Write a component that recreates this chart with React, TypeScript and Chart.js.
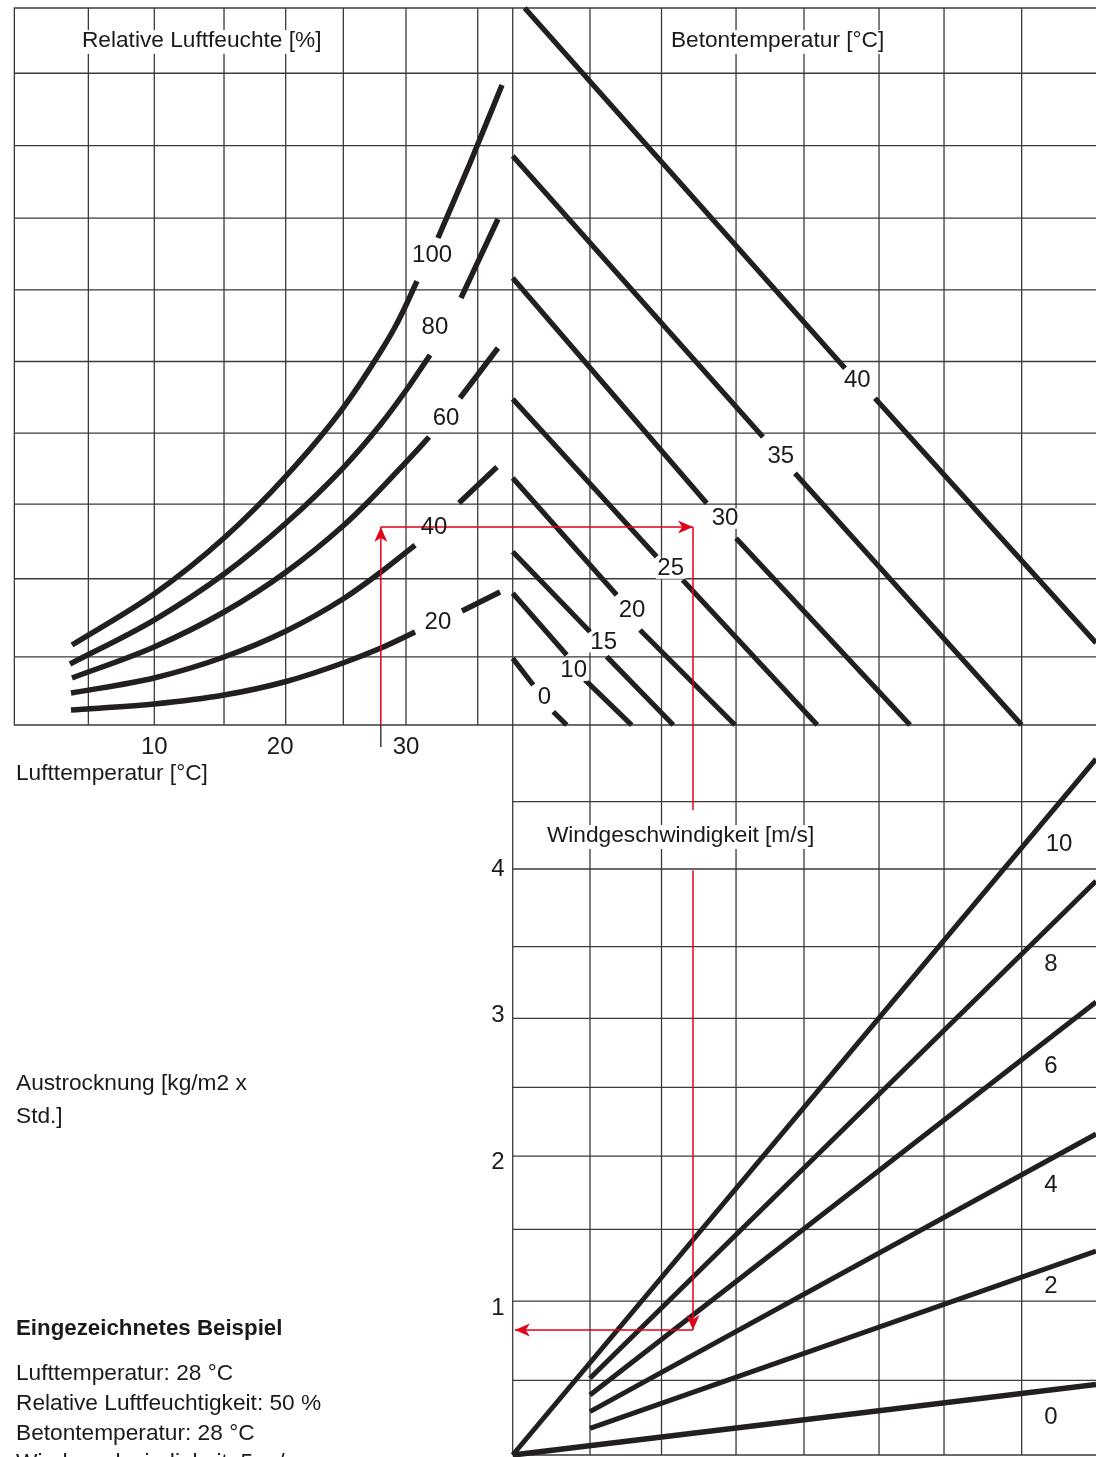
import React, { useEffect, useRef } from "react";
import { Chart, registerables } from "chart.js";

Chart.register(...registerables);

// ---------------- Data ----------------
// Scales: xL = air temperature [°C]; yT = vapour-pressure grid rows (top panels);
// xR = columns of the right-hand panels; yB = evaporation [kg/m² x h] (bottom panel)

// tick labels
const airTempTicks = [10, 20, 30];
const evaporationTicks = [1, 2, 3, 4];

// grid lines
const airTempGrid = [-1.12, 4.76, 10, 15.54, 20.44, 25.02, 30, 35.7];
const rightGrid = [0, 1.063, 2.047, 3.072, 4.007, 5.039, 5.933, 7.001];
const topGrid = [0, 0.95, 2.04, 3.08, 4.07, 5.07, 6.07, 7.07, 8.08, 9.09, 10];
const bottomGrid = [0, 0.51, 1.05, 1.54, 2.04, 2.51, 2.98, 3.47, 4.0, 4.46];

// relative humidity curves [air temp, row value]; each curve is broken where its label sits
const rhLabels = ["100", "80", "60", "40", "20"];
const rh100 = [
  [[3.46, 1.116], [9.98, 1.827], [15.54, 2.608], [20.47, 3.473], [24.99, 4.421], [28.01, 5.216], [29.13, 5.551], [30.08, 5.886], [30.87, 6.192]],
  [[32.54, 6.792], [35.09, 7.838], [37.63, 8.926]],
];
const rh80 = [
  [[3.3, 0.851], [9.98, 1.464], [15.54, 2.106], [20.47, 2.817], [24.99, 3.584], [28.01, 4.198], [30.08, 4.686], [31.11, 4.951], [31.91, 5.16]],
  [[34.37, 5.955], [37.31, 7.057]],
];
const rh60 = [
  [[3.46, 0.656], [9.98, 1.088], [15.54, 1.576], [20.47, 2.134], [24.99, 2.775], [27.14, 3.138], [30.08, 3.682], [31.11, 3.877], [31.83, 4.017]],
  [[34.29, 4.561], [37.31, 5.258]],
];
const rh40 = [
  [[3.38, 0.446], [9.98, 0.656], [15.54, 0.948], [20.47, 1.311], [24.99, 1.757], [28.01, 2.134], [30.72, 2.51]],
  [[34.21, 3.096], [37.23, 3.598]],
];
const rh20 = [
  [[3.38, 0.209], [9.98, 0.293], [15.54, 0.418], [20.47, 0.607], [24.99, 0.865], [28.01, 1.074], [30.72, 1.297]],
  [[34.45, 1.59], [37.47, 1.855]],
];
const rhLabelAt = [[32.07, 6.555], [32.3, 5.551], [33.18, 4.282], [32.23, 2.762], [32.54, 1.437]];

// concrete temperature lines [column, row value]
const betonLabels = ["40", "35", "30", "25", "20", "15", "10", "0"];
const beton40 = [[[0.165, 10.0], [4.571, 4.975]], [[4.983, 4.557], [8.024, 1.144]]];
const beton35 = [[[0, 7.936], [3.443, 4.017]], [[3.883, 3.51], [7.001, 0]]];
const beton30 = [[[0, 6.234], [2.669, 3.092]], [[3.072, 2.604], [5.465, 0]]];
const beton25 = [[[0, 4.547], [1.981, 2.347]], [[2.338, 2.022], [4.19, 0]]];
const beton20 = [[[0, 3.445], [1.431, 1.813]], [[1.751, 1.325], [3.058, 0]]];
const beton15 = [[[0, 2.417], [1.063, 1.301]], [[1.293, 0.953], [2.209, 0]]];
const beton10 = [[[0, 1.837], [0.743, 0.976]], [[0.994, 0.628], [1.637, 0]]];
const beton0 = [[[0, 0.93], [0.283, 0.558]], [[0.558, 0.185], [0.743, 0]]];
const betonLabelAt = [[4.739, 4.801], [3.688, 3.742], [2.92, 2.877], [2.173, 2.18], [1.641, 1.593], [1.252, 1.153], [0.839, 0.756], [0.437, 0.384]];

// wind speed lines [column, evaporation]
const windLabels = ["10", "8", "6", "4", "2", "0"];
const wind10 = [[0, 0], [8.024, 4.751]];
const wind8 = [[1.063, 0.524], [8.024, 3.918]];
const wind6 = [[1.063, 0.41], [8.024, 3.092]];
const wind4 = [[1.063, 0.296], [8.024, 2.191]];
const wind2 = [[1.063, 0.182], [8.024, 1.392]];
const wind0 = [[0, 0], [8.024, 0.481]];
const windLabelAt = [[7.515, 4.171], [7.405, 3.352], [7.405, 2.655], [7.405, 1.843], [7.405, 1.154], [7.405, 0.259]];

// worked example (red arrows)
const exampleAirTemp = 28;
const exampleRow = 2.762;
const exampleColumn = 2.48;
const exampleGapTop = -1.19; // row value where the red line breaks
const exampleGapBottom = 3.99; // evaporation value where it resumes
const exampleEvaporation = 0.853;
const exampleArrowEnd = 0.03;
const exampleTickEnd = -0.307;
const exampleLines = [
  "Lufttemperatur: 28 °C",
  "Relative Luftfeuchtigkeit: 50 %",
  "Betontemperatur: 28 °C",
  "Windgeschwindigkeit: 5 m/s",
];

// ---------------- Styling ----------------
const INK = "#231f20";
const GRID = "#3a3a3a";
const RED = "#e3001b";
const TEXT = "#1a1a1a";
const FONT = '"Liberation Sans", Arial, Helvetica, sans-serif';
const NUM = 24;
const TXT = 22.7;

function lineDs(points: number[][], xAxisID: string, yAxisID: string, width: number, smooth: boolean) {
  return {
    data: points.map(([x, y]) => ({ x, y })),
    xAxisID,
    yAxisID,
    showLine: true,
    borderColor: INK,
    backgroundColor: INK,
    borderWidth: width,
    pointRadius: 0,
    pointHoverRadius: 0,
    fill: false,
    tension: 0,
    cubicInterpolationMode: smooth ? "monotone" : "default",
    borderCapStyle: "butt",
    borderJoinStyle: "round",
  };
}

const gridPlugin = {
  id: "nomoGrid",
  beforeDatasetsDraw(chart: any) {
    const { ctx, chartArea } = chart;
    const { xL, xR, yT, yB } = chart.scales;
    ctx.save();
    ctx.strokeStyle = GRID;
    ctx.lineWidth = 1.3;
    ctx.beginPath();
    airTempGrid.forEach((v) => {
      const x = xL.getPixelForValue(v);
      ctx.moveTo(x, yT.getPixelForValue(0));
      ctx.lineTo(x, yT.getPixelForValue(10));
    });
    rightGrid.forEach((v) => {
      const x = xR.getPixelForValue(v);
      ctx.moveTo(x, yT.getPixelForValue(10));
      ctx.lineTo(x, yB.getPixelForValue(0));
    });
    const leftEdge = xL.getPixelForValue(airTempGrid[0]);
    topGrid.forEach((v) => {
      const y = yT.getPixelForValue(v);
      ctx.moveTo(leftEdge - 0.6, y);
      ctx.lineTo(chartArea.right, y);
    });
    const midEdge = xR.getPixelForValue(0);
    bottomGrid.forEach((v) => {
      const y = yB.getPixelForValue(v);
      ctx.moveTo(midEdge, y);
      ctx.lineTo(chartArea.right, y);
    });
    ctx.stroke();
    ctx.restore();
  },
};

function knock(ctx: any, t: string, x: number, y: number, size: number, up: number, down: number) {
  ctx.font = `${size}px ${FONT}`;
  const w = ctx.measureText(t).width;
  ctx.fillStyle = "#ffffff";
  ctx.fillRect(x - w / 2 - 1.5, y - up * size, w + 3, (up + down) * size);
}

function write(ctx: any, t: string, x: number, y: number, size: number, align: string = "center") {
  ctx.font = `${size}px ${FONT}`;
  ctx.textAlign = align;
  ctx.textBaseline = "middle";
  ctx.fillStyle = TEXT;
  ctx.fillText(t, x, y);
}

function arrowHead(ctx: any, from: number[], tip: number[]) {
  const dx = tip[0] - from[0];
  const dy = tip[1] - from[1];
  const len = Math.hypot(dx, dy) || 1;
  const ux = dx / len;
  const uy = dy / len;
  const px = -uy;
  const py = ux;
  const L = 15;
  const H = 6.5;
  ctx.beginPath();
  ctx.moveTo(tip[0], tip[1]);
  ctx.lineTo(tip[0] - ux * L + px * H, tip[1] - uy * L + py * H);
  ctx.lineTo(tip[0] - ux * L * 0.72, tip[1] - uy * L * 0.72);
  ctx.lineTo(tip[0] - ux * L - px * H, tip[1] - uy * L - py * H);
  ctx.closePath();
  ctx.fill();
}

const labelPlugin = {
  id: "nomoLabels",
  afterDatasetsDraw(chart: any) {
    const { ctx } = chart;
    const s = chart.scales;
    const P = (xs: string, x: number, ys: string, y: number) => [s[xs].getPixelForValue(x), s[ys].getPixelForValue(y)];
    ctx.save();

    const headers: [string, number[]][] = [
      ["Relative Luftfeuchte [%]", P("xL", 13.77, "yT", 9.55)],
      ["Betontemperatur [°C]", P("xR", 3.644, "yT", 9.55)],
      ["Windgeschwindigkeit [m/s]", P("xR", 2.309, "yB", 4.23)],
    ];
    const rhPts = rhLabels.map((t, i) => [t, P("xL", rhLabelAt[i][0], "yT", rhLabelAt[i][1])] as [string, number[]]);
    const betonPts = betonLabels.map((t, i) => [t, P("xR", betonLabelAt[i][0], "yT", betonLabelAt[i][1])] as [string, number[]]);

    // white knock-outs behind labels
    headers.forEach(([t, p]) => knock(ctx, t, p[0], p[1], TXT, 0.45, 0.6));
    rhPts.forEach(([t, p]) => knock(ctx, t, p[0], p[1], NUM, 0.42, 0.42));
    betonPts.forEach(([t, p]) => knock(ctx, t, p[0], p[1], NUM, 0.42, 0.42));

    // worked example
    const a = P("xL", exampleAirTemp, "yT", 0);
    const b = P("xL", exampleAirTemp, "yT", exampleRow);
    const c = P("xR", exampleColumn, "yT", exampleRow);
    const d1 = P("xR", exampleColumn, "yT", exampleGapTop);
    const d2 = P("xR", exampleColumn, "yB", exampleGapBottom);
    const e = P("xR", exampleColumn, "yB", exampleEvaporation);
    const f = P("xR", exampleArrowEnd, "yB", exampleEvaporation);
    const tickEnd = P("xL", exampleAirTemp, "yT", exampleTickEnd);

    ctx.strokeStyle = INK;
    ctx.lineWidth = 1.3;
    ctx.beginPath();
    ctx.moveTo(a[0], a[1]);
    ctx.lineTo(tickEnd[0], tickEnd[1]);
    ctx.stroke();

    ctx.strokeStyle = RED;
    ctx.fillStyle = RED;
    ctx.lineWidth = 1.5;
    ctx.beginPath();
    ctx.moveTo(a[0], a[1]);
    ctx.lineTo(b[0], b[1]);
    ctx.moveTo(b[0], b[1]);
    ctx.lineTo(c[0], c[1]);
    ctx.moveTo(c[0], c[1]);
    ctx.lineTo(d1[0], d1[1]);
    ctx.moveTo(d2[0], d2[1]);
    ctx.lineTo(e[0], e[1]);
    ctx.moveTo(e[0], e[1]);
    ctx.lineTo(f[0], f[1]);
    ctx.stroke();
    arrowHead(ctx, a, b);
    arrowHead(ctx, b, c);
    arrowHead(ctx, d2, e);
    arrowHead(ctx, e, f);

    // texts
    headers.forEach(([t, p]) => write(ctx, t, p[0], p[1], TXT));
    rhPts.forEach(([t, p]) => write(ctx, t, p[0], p[1], NUM));
    betonPts.forEach(([t, p]) => write(ctx, t, p[0], p[1], NUM));
    windLabels.forEach((t, i) => {
      const p = P("xR", windLabelAt[i][0], "yB", windLabelAt[i][1]);
      write(ctx, t, p[0], p[1], NUM);
    });
    airTempTicks.forEach((v) => {
      const p = P("xL", v, "yT", -0.307);
      write(ctx, String(v), p[0], p[1], NUM);
    });
    evaporationTicks.forEach((v) => {
      const p = P("xR", -0.202, "yB", v);
      write(ctx, String(v), p[0], p[1], NUM);
    });
    const lt = P("xL", -0.99, "yT", -0.678);
    write(ctx, "Lufttemperatur [°C]", lt[0], lt[1], TXT, "left");

    ctx.restore();
  },
};

export default function App() {
  const ref = useRef<HTMLCanvasElement | null>(null);

  useEffect(() => {
    document.body.style.margin = "0";
    const canvas = ref.current;
    if (!canvas) return;

    const datasets: any[] = [];
    [rh100, rh80, rh60, rh40, rh20].forEach((curve) =>
      curve.forEach((segment) => datasets.push(lineDs(segment, "xL", "yT", 5.5, true)))
    );
    [beton40, beton35, beton30, beton25, beton20, beton15, beton10, beton0].forEach((line) =>
      line.forEach((segment) => datasets.push(lineDs(segment, "xR", "yT", 5.2, false)))
    );
    [wind10, wind8, wind6, wind4, wind2, wind0].forEach((line, i) =>
      datasets.push(lineDs(line, "xR", "yB", i === 5 ? 5.6 : 5, false))
    );

    const chart = new Chart(canvas, {
      type: "scatter",
      data: { datasets },
      options: {
        responsive: false,
        animation: false,
        events: [],
        layout: { padding: 0 },
        plugins: { legend: { display: false }, tooltip: { enabled: false }, title: { display: false } },
        scales: {
          xL: { type: "linear", axis: "x", position: "bottom", display: false, min: -2.2606, max: 84.827 },
          xR: { type: "linear", axis: "x", position: "bottom", display: false, min: -7.0523, max: 8.0234 },
          yT: { type: "linear", axis: "y", position: "left", display: false, min: -10.209, max: 10.1116 },
          yB: { type: "linear", axis: "y", position: "left", display: false, min: -0.01365, max: 9.9317 },
        },
      } as any,
      plugins: [gridPlugin, labelPlugin],
    });
    return () => chart.destroy();
  }, []);

  return (
    <div
      style={{
        position: "relative",
        width: 1096,
        height: 1457,
        overflow: "hidden",
        background: "#ffffff",
        fontFamily: FONT,
        color: TEXT,
      }}
    >
      <style>{"html,body{margin:0;padding:0;overflow:hidden;background:#fff}"}</style>
      <canvas ref={ref} width={1096} height={1457} style={{ position: "absolute", left: 0, top: 0 }} />
      <div style={{ position: "absolute", left: 16, top: 1066, fontSize: TXT, lineHeight: "33.3px" }}>
        Austrocknung [kg/m2 x
        <br />
        Std.]
      </div>
      <div style={{ position: "absolute", left: 16, top: 1315, fontSize: 22.3, lineHeight: "26px", fontWeight: "bold" }}>
        Eingezeichnetes Beispiel
      </div>
      <div style={{ position: "absolute", left: 16, top: 1358, fontSize: TXT, lineHeight: "29.8px" }}>
        {exampleLines.map((l) => (
          <div key={l}>{l}</div>
        ))}
      </div>
    </div>
  );
}
